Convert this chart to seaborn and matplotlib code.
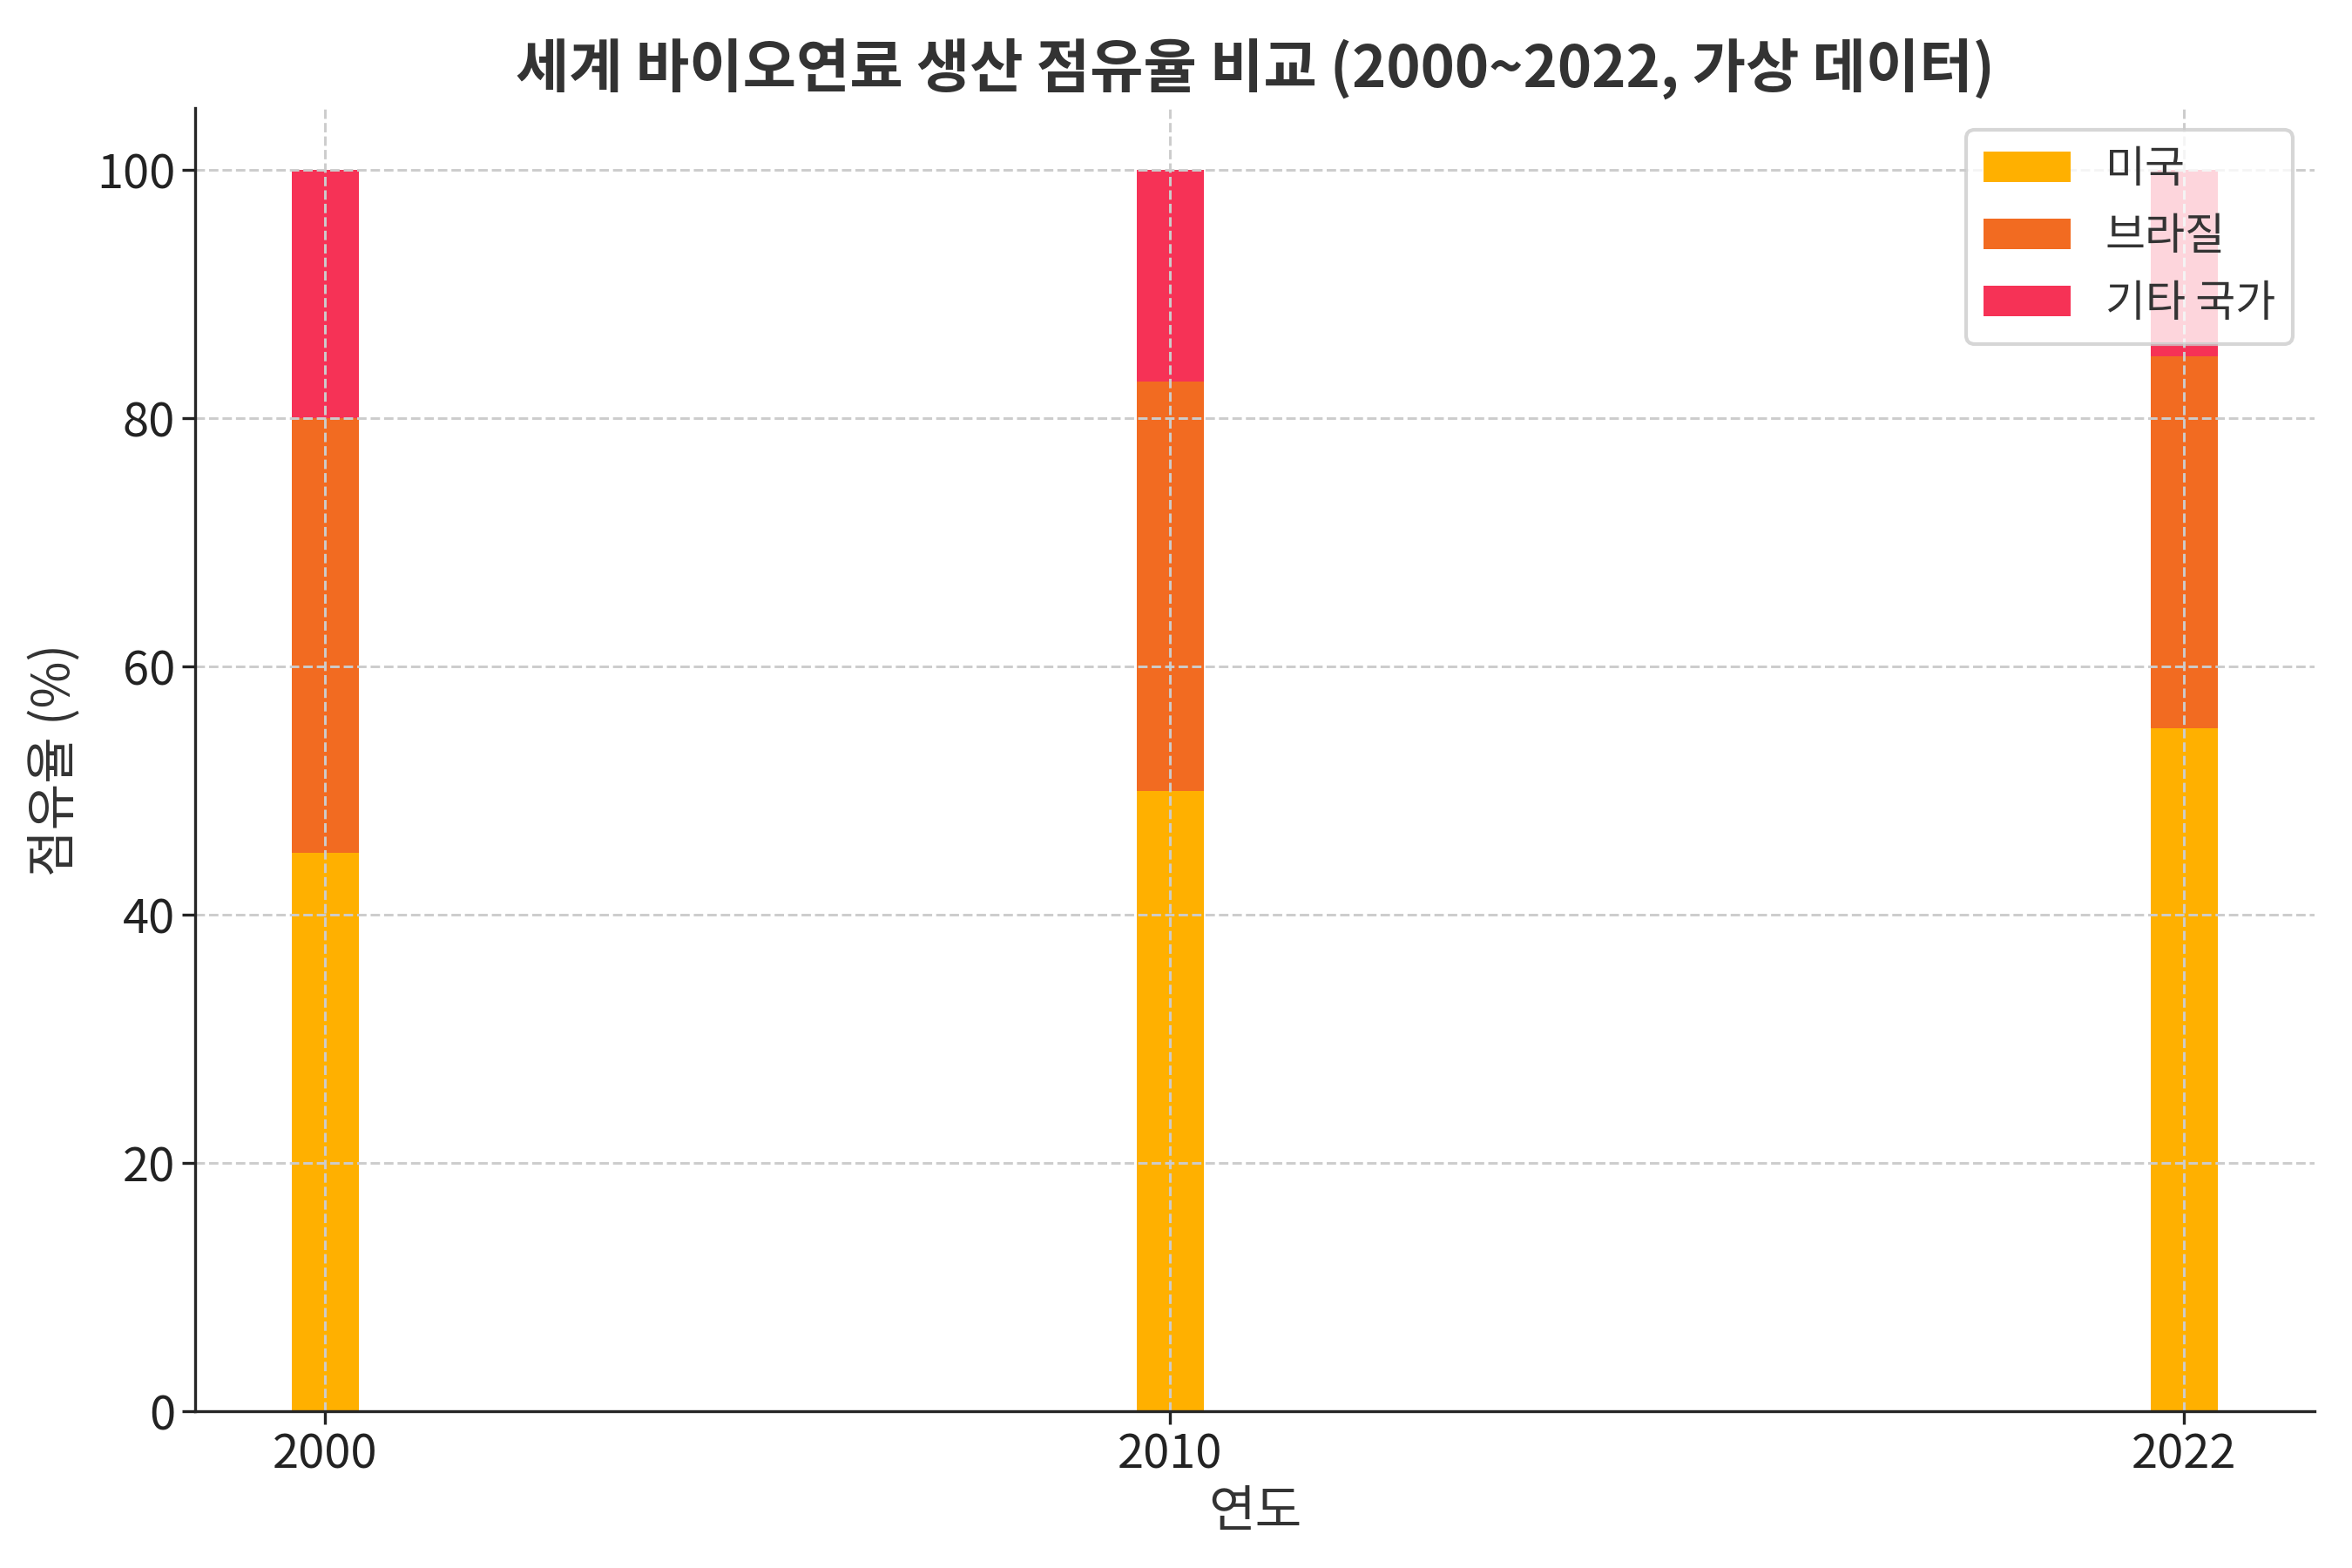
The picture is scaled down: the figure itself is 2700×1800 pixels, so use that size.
import matplotlib
matplotlib.use('Agg')
import matplotlib.pyplot as plt
import seaborn as sns
import numpy as np

# 데이터
years = [2000, 2010, 2022]
usa = [45, 50, 55]
brazil = [35, 33, 30]
others = [20, 17, 15]
labels = ['미국', '브라질', '기타 국가']
colors = ['#FFB000', '#F26B21', '#F63256']

sns.set_style('ticks')
plt.rcParams['font.family'] = ['Noto Sans CJK KR', 'DejaVu Sans']
plt.rcParams['text.color'] = '#333333'
plt.rcParams['axes.labelcolor'] = '#333333'
plt.rcParams['xtick.color'] = '#222222'
plt.rcParams['ytick.color'] = '#222222'

fig, ax = plt.subplots(figsize=(9, 6), dpi=300)

# 누적 높이 (위에서부터 겹쳐 그리기)
top_usa = np.array(usa)
top_brazil = top_usa + np.array(brazil)
top_others = top_brazil + np.array(others)

for tops, color, label in zip([top_others, top_brazil, top_usa], colors[::-1], labels[::-1]):
    sns.barplot(x=years, y=tops, native_scale=True, width=0.08, orient='x',
                color=color, saturation=1, errorbar=None, label=label, ax=ax,
                linewidth=0)

ax.set_xticks(years)
ax.set_xticklabels([str(y) for y in years])
ax.tick_params(labelsize=13, pad=2)
ax.set_axisbelow('line')
ax.grid(True, linestyle='--', color='#cccccc', linewidth=0.7)
sns.despine(ax=ax)

ax.set_title('세계 바이오연료 생산 점유율 비교 (2000~2022, 가상 데이터)',
             fontsize=16, fontweight='bold', color='#333333')
ax.set_xlabel('연도', fontsize=14, labelpad=2)
ax.set_ylabel('점유율 (%)', fontsize=14, labelpad=4)

handles, lbls = ax.get_legend_handles_labels()
ax.legend(handles[::-1], lbls[::-1], loc='upper right', fontsize=12, framealpha=0.8)

fig.subplots_adjust(left=0.083, right=0.984, top=0.931, bottom=0.1)
fig.savefig('out.png')
